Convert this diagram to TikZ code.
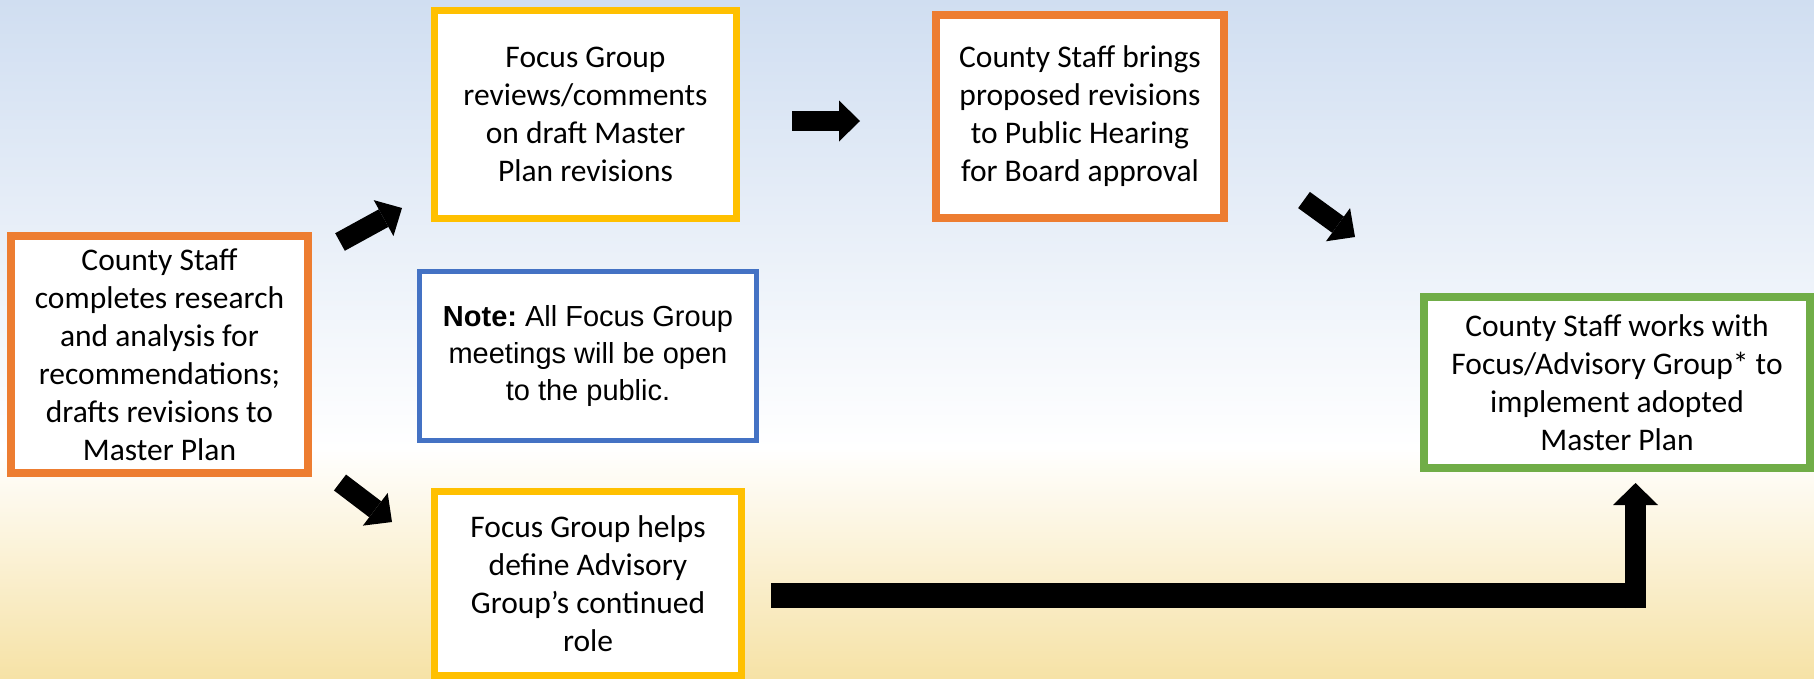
\documentclass[tikz,border=0pt]{standalone}
\usepackage{fontspec}
\setmainfont{Carlito}
\newfontfamily\notefont{Liberation Sans}
\usetikzlibrary{arrows.meta}
\definecolor{bgblue}{RGB}{208,222,241}
\definecolor{bggold}{RGB}{246,226,166}
\definecolor{boxorange}{RGB}{237,125,49}
\definecolor{boxgold}{RGB}{255,192,0}
\definecolor{boxblue}{RGB}{68,114,196}
\definecolor{boxgreen}{RGB}{112,173,71}
\frenchspacing

\begin{document}
\begin{tikzpicture}[x=1pt,y=-1pt,
  stepbox/.style={draw, fill=white, align=center, inner sep=0pt,
    font=\fontsize{31.5}{38}\selectfont},
  notebox/.style={draw, fill=white, align=center, inner sep=0pt,
    font=\notefont\fontsize{29}{37}\selectfont},
  blockarrow/.style={line width=20pt,
    -{Triangle[length=21pt,width=41pt,line width=0pt]}}
]
\useasboundingbox (0,0) rectangle (1814,678);

% background: pale blue fading to white, then to pale gold
\shade[top color=bgblue, bottom color=white] (0,0) rectangle (1814,448);
\shade[top color=white, bottom color=bggold] (0,448) rectangle (1814,678);

% process steps
\node[stepbox, draw=boxorange, line width=8pt, minimum width=297pt, minimum height=237pt]
  (research) at (159.5,354.5)
  {County Staff\\completes research\\and analysis for\\recommendations;\\drafts revisions to\\Master Plan};
\node[stepbox, draw=boxgold, line width=7pt, minimum width=302pt, minimum height=208pt]
  (review) at (585.5,114.5)
  {Focus Group\\reviews/comments\\on draft Master\\Plan revisions};
\node[notebox, draw=boxblue, line width=5pt, minimum width=337pt, minimum height=169pt]
  (note) at (588,356)
  {\textbf{Note:}\ All Focus Group\\meetings will be open\\to the public.};
\node[stepbox, draw=boxgold, line width=7pt, minimum width=307pt, minimum height=183.5pt]
  (define) at (588,583.25)
  {Focus Group helps\\define Advisory\\Group’s continued\\role};
\node[stepbox, draw=boxorange, line width=8pt, minimum width=288pt, minimum height=203pt]
  (hearing) at (1080,116.5)
  {County Staff brings\\proposed revisions\\to Public Hearing\\for Board approval};
\node[stepbox, draw=boxgreen, line width=8pt, minimum width=386pt, minimum height=171pt]
  (implement) at (1617,382.5)
  {County Staff works with\\Focus/Advisory Group* to\\implement adopted\\Master Plan};

% block arrows between the steps
\coordinate (r2v-s) at (340,242);    \coordinate (r2v-e) at (402,208);
\coordinate (r2d-s) at (340,482.5);  \coordinate (r2d-e) at (392,522);
\coordinate (v2h-s) at (792,121);    \coordinate (v2h-e) at (860,121);
\coordinate (h2i-s) at (1304,200);   \coordinate (h2i-e) at (1355,237);
\draw[blockarrow] (r2v-s) -- (r2v-e);
\draw[blockarrow] (r2d-s) -- (r2d-e);
\draw[blockarrow] (v2h-s) -- (v2h-e);
\draw[blockarrow] (h2i-s) -- (h2i-e);

% bent arrow from the advisory step up to implementation
\coordinate (d2i-s) at (771,595.5);
\coordinate (d2i-c) at (1646,595.5);
\coordinate (d2i-u) at (1635.5,608);
\coordinate (d2i-e) at (1635.5,483);
\draw[line width=25pt] (d2i-s) -- (d2i-c);
\draw[line width=21pt, -{Triangle[length=22pt,width=45pt,line width=0pt]}] (d2i-u) -- (d2i-e);
\end{tikzpicture}
\end{document}
